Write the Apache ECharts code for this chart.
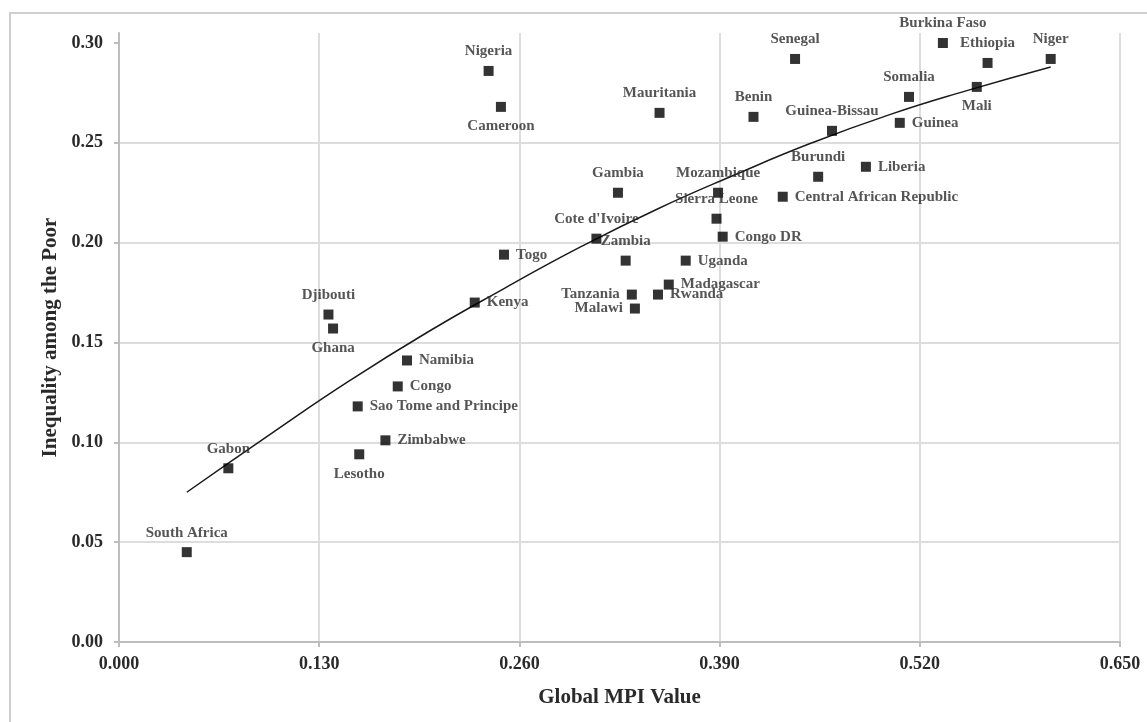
<!DOCTYPE html>
<html>
<head>
<meta charset="utf-8">
<title>Global MPI and Inequality among the Poor</title>
<script src="https://cdn.jsdelivr.net/npm/echarts@6/dist/echarts.min.js"></script>
<style>
  html, body { margin: 0; padding: 0; background: #ffffff; }
  #chart { width: 1147px; height: 722px; }
</style>
</head>
<body>
<div id="chart"></div>
<script>
// Country names with their Global MPI value and inequality among the poor
const countries = [
  'South Africa', 'Gabon', 'Djibouti', 'Ghana', 'Sao Tome and Principe', 'Lesotho',
  'Zimbabwe', 'Congo', 'Namibia', 'Kenya', 'Togo', "Cote d'Ivoire", 'Zambia', 'Uganda',
  'Tanzania', 'Malawi', 'Madagascar', 'Rwanda', 'Sierra Leone', 'Congo DR', 'Mozambique',
  'Gambia', 'Nigeria', 'Cameroon', 'Mauritania', 'Benin', 'Senegal', 'Burkina Faso',
  'Ethiopia', 'Niger', 'Somalia', 'Mali', 'Guinea-Bissau', 'Guinea', 'Burundi', 'Liberia',
  'Central African Republic'
];
const mpiValues = [
  0.044, 0.071, 0.136, 0.139, 0.155, 0.156,
  0.173, 0.181, 0.187, 0.231, 0.250, 0.310, 0.329, 0.368,
  0.333, 0.335, 0.357, 0.350, 0.388, 0.392, 0.389,
  0.324, 0.240, 0.248, 0.351, 0.412, 0.439, 0.535,
  0.564, 0.605, 0.513, 0.557, 0.463, 0.507, 0.454, 0.485,
  0.431
];
const inequalityValues = [
  0.045, 0.087, 0.164, 0.157, 0.118, 0.094,
  0.101, 0.128, 0.141, 0.170, 0.194, 0.202, 0.191, 0.191,
  0.174, 0.167, 0.179, 0.174, 0.212, 0.203, 0.225,
  0.225, 0.286, 0.268, 0.265, 0.263, 0.292, 0.300,
  0.290, 0.292, 0.273, 0.278, 0.256, 0.260, 0.233, 0.238,
  0.223
];

// Fitted trend curve across the observed MPI range
const trendX = [0.044, 0.100, 0.150, 0.200, 0.250, 0.300, 0.350, 0.400, 0.450, 0.500, 0.550, 0.605];
const trendY = [0.075, 0.105, 0.131, 0.155, 0.177, 0.198, 0.217, 0.234, 0.250, 0.264, 0.276, 0.288];

// Axis tick values
const xTicks = [0, 0.13, 0.26, 0.39, 0.52, 0.65];
const yTicks = [0, 0.05, 0.10, 0.15, 0.20, 0.25, 0.30];

// Where each country's name sits relative to its marker: [position, dx, dy]
const labelPlacement = {
  'South Africa': ['top', 0, 0],
  'Gabon': ['top', 0, 0],
  'Djibouti': ['top', 0, 0],
  'Ghana': ['bottom', 2, 0],
  'Sao Tome and Principe': ['right', 0, 0],
  'Lesotho': ['bottom', 2, 0],
  'Zimbabwe': ['right', 0, 0],
  'Congo': ['right', 2, 0],
  'Namibia': ['right', 0, 0],
  'Kenya': ['right', 0, 5],
  'Togo': ['right', 0, 0],
  "Cote d'Ivoire": ['top', -37, 0],
  'Zambia': ['top', 3, 0],
  'Uganda': ['right', 2, 0],
  'Tanzania': ['left', 0, 0],
  'Malawi': ['left', 0, 0],
  'Madagascar': ['right', 0, 2],
  'Rwanda': ['right', 0, 6],
  'Sierra Leone': ['top', 7, 0],
  'Congo DR': ['right', -3, 0],
  'Mozambique': ['top', 0, 0],
  'Gambia': ['top', 0, 0],
  'Nigeria': ['top', 0, 0],
  'Cameroon': ['bottom', 9, 0],
  'Mauritania': ['top', 0, 0],
  'Benin': ['top', 0, 0],
  'Senegal': ['top', 0, 0],
  'Burkina Faso': ['top', 0, 0],
  'Ethiopia': ['top', 5, 0],
  'Niger': ['top', 0, 0],
  'Somalia': ['top', 0, 0],
  'Mali': ['bottom', 20, 0],
  'Guinea-Bissau': ['top', 2, 0],
  'Guinea': ['right', 0, 6],
  'Burundi': ['top', -2, 0],
  'Liberia': ['right', 0, 0],
  'Central African Republic': ['right', 2, 0]
};

const serif = '"Liberation Serif", "DejaVu Serif", serif';

const points = countries.map(function (name, i) {
  const p = labelPlacement[name] || ['top', 0, 0];
  return {
    name: name,
    value: [mpiValues[i], inequalityValues[i]],
    label: { position: p[0], offset: [p[1], p[2]] }
  };
});

const trendData = trendX.map(function (x, i) { return [x, trendY[i]]; });

const chart = echarts.init(document.getElementById('chart'), null, { renderer: 'canvas' });

chart.setOption({
  backgroundColor: '#ffffff',
  animation: false,
  graphic: [{
    type: 'rect',
    z: -10,
    shape: { x: 10, y: 13, width: 1300, height: 900 },
    style: { fill: 'none', stroke: '#cfcfcf', lineWidth: 2 }
  }],
  grid: { left: 119, right: 27, top: 33, bottom: 80, containLabel: false },
  xAxis: {
    type: 'value',
    min: 0,
    max: 0.65,
    interval: 0.13,
    name: 'Global MPI Value',
    nameLocation: 'middle',
    nameGap: 45,
    nameTextStyle: { fontFamily: serif, fontWeight: 'bold', fontSize: 21, color: '#2a2a2a' },
    axisLine: { show: true, lineStyle: { color: '#bdbdbd', width: 2 } },
    axisTick: { show: true, length: 5, inside: false, lineStyle: { color: '#bdbdbd', width: 2 },
                customValues: xTicks },
    axisLabel: {
      customValues: xTicks,
      margin: 13,
      fontFamily: serif, fontWeight: 'bold', fontSize: 18, color: '#2a2a2a',
      formatter: function (v) { return v.toFixed(3); }
    },
    splitLine: { show: true, showMinLine: false, showMaxLine: true,
                 lineStyle: { color: '#dddddd', width: 2 } }
  },
  yAxis: {
    type: 'value',
    min: 0,
    max: 0.305,
    interval: 0.05,
    name: 'Inequality among the Poor',
    nameLocation: 'middle',
    nameGap: 56,
    nameRotate: 90,
    nameTextStyle: { fontFamily: serif, fontWeight: 'bold', fontSize: 21, color: '#2a2a2a' },
    axisLine: { show: true, lineStyle: { color: '#bdbdbd', width: 2 } },
    axisTick: { show: true, length: 5, inside: false, lineStyle: { color: '#bdbdbd', width: 2 },
                customValues: yTicks },
    axisLabel: {
      customValues: yTicks,
      margin: 16,
      fontFamily: serif, fontWeight: 'bold', fontSize: 18, color: '#2a2a2a',
      formatter: function (v) { return v.toFixed(2); }
    },
    splitLine: { show: true, showMinLine: false, showMaxLine: false,
                 lineStyle: { color: '#dddddd', width: 2 } }
  },
  series: [
    {
      name: 'Trend',
      type: 'line',
      data: trendData,
      smooth: true,
      showSymbol: false,
      silent: true,
      z: 2,
      lineStyle: { color: '#1a1a1a', width: 1.5 }
    },
    {
      name: 'Countries',
      type: 'scatter',
      data: points,
      symbol: 'rect',
      symbolSize: 10,
      z: 3,
      itemStyle: { color: '#000000' },
      label: {
        show: true,
        formatter: '{b}',
        distance: 7,
        fontFamily: serif,
        fontWeight: 'bold',
        fontSize: 15,
        color: '#2a2a2a'
      },
      labelLayout: { hideOverlap: false }
    }
  ]
});
</script>
</body>
</html>
